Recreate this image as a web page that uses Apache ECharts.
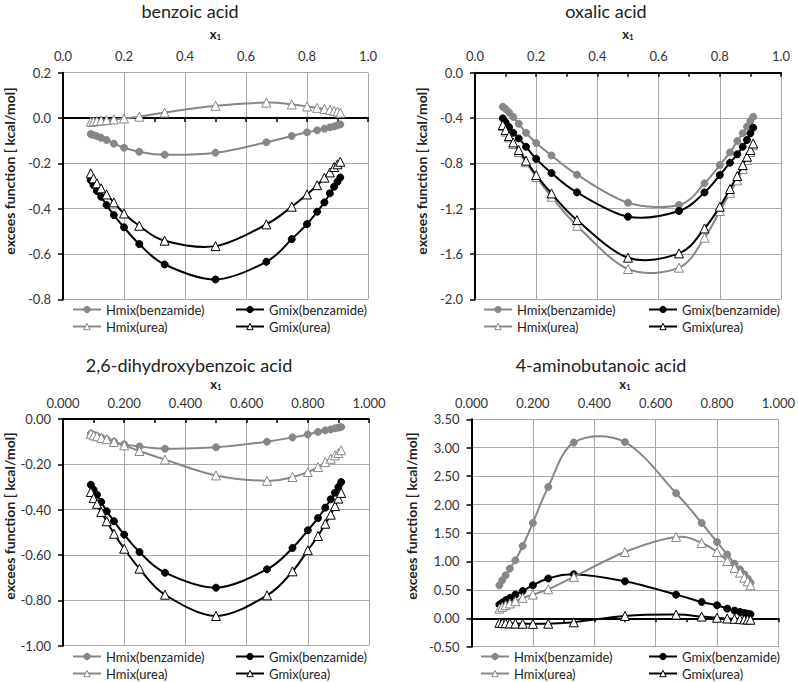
<!DOCTYPE html>
<html>
<head>
<meta charset="utf-8">
<script src="https://cdn.jsdelivr.net/npm/echarts@6/dist/echarts.min.js"></script>
<style>html,body{margin:0;padding:0;background:#fff}#c{width:798px;height:682px}</style>
</head>
<body>
<div id="c"></div>
<script>
// mole fraction x1 (same compositions in all four panels)
const X = [0.0909, 0.1, 0.1111, 0.125, 0.1429, 0.1667, 0.2, 0.25, 0.3333, 0.5, 0.6667, 0.75, 0.8, 0.8333, 0.8571, 0.875, 0.8889, 0.9, 0.9091];

const seriesNames = ['Hmix(benzamide)', 'Gmix(benzamide)', 'Hmix(urea)', 'Gmix(urea)'];
const panelTitles = ['benzoic acid', 'oxalic acid', '2,6-dihydroxybenzoic acid', '4-aminobutanoic acid'];
const yTitle = 'excees function [ kcal/mol]';

// benzoic acid
const bz_Hb = [-0.071,-0.075,-0.080,-0.087,-0.097,-0.113,-0.131,-0.149,-0.162,-0.153,-0.107,-0.079,-0.063,-0.054,-0.047,-0.041,-0.037,-0.032,-0.028];
const bz_Gb = [-0.274,-0.296,-0.322,-0.347,-0.384,-0.428,-0.482,-0.556,-0.646,-0.712,-0.634,-0.534,-0.468,-0.413,-0.372,-0.332,-0.303,-0.281,-0.262];
const bz_Hu = [-0.017,-0.015,-0.013,-0.011,-0.009,-0.006,-0.002,0.006,0.024,0.054,0.068,0.060,0.051,0.045,0.040,0.036,0.032,0.029,0.023];
const bz_Gu = [-0.244,-0.266,-0.288,-0.310,-0.337,-0.372,-0.421,-0.475,-0.541,-0.565,-0.469,-0.391,-0.337,-0.296,-0.263,-0.240,-0.216,-0.204,-0.193];

// oxalic acid
const ox_Hb = [-0.30,-0.32,-0.35,-0.39,-0.45,-0.53,-0.62,-0.73,-0.90,-1.147,-1.168,-0.976,-0.815,-0.703,-0.603,-0.535,-0.476,-0.426,-0.388];
const ox_Gb = [-0.403,-0.438,-0.48,-0.53,-0.58,-0.653,-0.76,-0.885,-1.056,-1.27,-1.22,-1.056,-0.903,-0.794,-0.72,-0.653,-0.594,-0.535,-0.485];
const ox_Hu = [-0.47,-0.52,-0.57,-0.63,-0.70,-0.79,-0.92,-1.094,-1.35,-1.732,-1.72,-1.456,-1.22,-1.06,-0.95,-0.85,-0.77,-0.70,-0.64];
const ox_Gu = [-0.462,-0.506,-0.559,-0.615,-0.682,-0.776,-0.903,-1.065,-1.30,-1.632,-1.594,-1.374,-1.182,-1.026,-0.912,-0.815,-0.741,-0.682,-0.624];

// 2,6-dihydroxybenzoic acid
const dh_Hb = [-0.065,-0.070,-0.075,-0.082,-0.090,-0.100,-0.112,-0.121,-0.131,-0.125,-0.100,-0.081,-0.068,-0.057,-0.050,-0.046,-0.041,-0.038,-0.035];
const dh_Gb = [-0.290,-0.312,-0.334,-0.366,-0.407,-0.451,-0.510,-0.587,-0.678,-0.744,-0.663,-0.569,-0.491,-0.437,-0.391,-0.354,-0.325,-0.300,-0.278];
const dh_Hu = [-0.065,-0.072,-0.076,-0.083,-0.089,-0.101,-0.116,-0.141,-0.179,-0.249,-0.273,-0.256,-0.234,-0.212,-0.190,-0.175,-0.160,-0.150,-0.138];
const dh_Gu = [-0.322,-0.349,-0.374,-0.410,-0.451,-0.506,-0.572,-0.660,-0.775,-0.869,-0.778,-0.672,-0.579,-0.516,-0.462,-0.422,-0.384,-0.351,-0.326];

// 4-aminobutanoic acid
const ab_Hb = [0.58,0.668,0.756,0.873,1.02,1.272,1.676,2.31,3.09,3.10,2.20,1.676,1.342,1.12,0.96,0.86,0.774,0.70,0.627];
const ab_Gb = [0.24,0.275,0.317,0.358,0.416,0.48,0.58,0.70,0.774,0.65,0.416,0.287,0.229,0.17,0.135,0.111,0.094,0.082,0.07];
const ab_Hu = [0.17,0.2,0.23,0.26,0.3,0.36,0.416,0.51,0.727,1.166,1.43,1.325,1.166,1.008,0.885,0.803,0.715,0.65,0.58];
const ab_Gu = [-0.08,-0.085,-0.088,-0.09,-0.093,-0.096,-0.098,-0.095,-0.07,0.04,0.065,0.03,0.01,-0.005,-0.01,-0.015,-0.02,-0.022,-0.025];

// axis ranges per panel
const yMin = [-0.8, -2.0, -1.0, -0.5];
const yMax = [0.2, 0.0, 0.0, 3.5];
const yStep = [0.2, 0.4, 0.2, 0.5];
const yDec = [1, 1, 2, 2];
const xDec = [1, 1, 3, 3];

const panelData = [
  [bz_Hb, bz_Gb, bz_Hu, bz_Gu],
  [ox_Hb, ox_Gb, ox_Hu, ox_Gu],
  [dh_Hb, dh_Gb, dh_Hu, dh_Gu],
  [ab_Hb, ab_Gb, ab_Hu, ab_Gu]
];

// layout (pixels)
const grids = [
  {left: 63, top: 72.7, width: 305, height: 226.7},
  {left: 475, top: 72.7, width: 306, height: 226.7},
  {left: 63, top: 419, width: 306, height: 226.7},
  {left: 471.5, top: 419.3, width: 309, height: 227.4}
];
const titlePos = [[190, 10.5], [606, 10.5], [189, 365], [601, 365]];
const yNamePos = [[9, 171], [421, 171], [9, 516], [411, 516]];
const xNameGap = [32, 32, 28, 28];
const legendTops = [298, 298, 645, 645];
const legendCols = [[67, 230], [478, 643], [67, 230], [475, 643]];

const FONT = 'Lato, "Open Sans", sans-serif';
const GREY = '#878787';
const GRIDC = '#a8a8a8';
const fmt = d => v => (Math.abs(v) < 1e-9 ? 0 : v).toFixed(d);

const xAxis = [], yAxis = [], series = [], legend = [], graphic = [];
const styles = [
  {color: GREY, sym: 'circle', fill: GREY, size: 7},
  {color: '#000', sym: 'circle', fill: '#000', size: 7},
  {color: GREY, sym: 'triangle', fill: '#fff', size: 9},
  {color: '#000', sym: 'triangle', fill: '#fff', size: 9}
];

// smoothed (Excel-like Catmull-Rom) segment renderer working in pixel space via api.coord
function makeRenderer(pts, color) {
  return function (params, api) {
    const i = params.dataIndex, n = pts.length;
    if (i >= n - 1) return null;
    const P = k => api.coord(pts[Math.max(0, Math.min(n - 1, k))]);
    const p0 = P(i - 1), p1 = P(i), p2 = P(i + 1), p3 = P(i + 2);
    const seg = Math.hypot(p2[0] - p1[0], p2[1] - p1[1]);
    const arm = (a, b) => {
      let vx = (b[0] - a[0]) / 6, vy = (b[1] - a[1]) / 6;
      const L = Math.hypot(vx, vy), lim = seg * 0.5;
      if (L > lim && L > 0) { vx *= lim / L; vy *= lim / L; }
      return [vx, vy];
    };
    const a1 = arm(p0, p2), a2 = arm(p1, p3);
    return {
      type: 'bezierCurve',
      shape: {x1: p1[0], y1: p1[1], x2: p2[0], y2: p2[1],
              cpx1: p1[0] + a1[0], cpy1: p1[1] + a1[1], cpx2: p2[0] - a2[0], cpy2: p2[1] - a2[1]},
      style: {stroke: color, lineWidth: 2, fill: null, lineCap: 'round'}
    };
  };
}

for (let p = 0; p < 4; p++) {
  xAxis.push({
    gridIndex: p, type: 'value', position: 'top', min: 0, max: 1, interval: 0.2,
    axisLine: {show: false, onZero: false}, axisTick: {show: false},
    axisLabel: {formatter: fmt(xDec[p]), fontSize: 13, color: '#333', margin: 10, fontFamily: FONT},
    splitLine: {show: true, lineStyle: {color: GRIDC, width: 1}},
    name: '{a|x}{b|1}', nameLocation: 'middle', nameGap: xNameGap[p],
    nameTextStyle: {rich: {
      a: {fontSize: 13, fontWeight: 'bold', fontFamily: FONT, color: '#222'},
      b: {fontSize: 8, fontWeight: 'bold', fontFamily: FONT, color: '#222', padding: [6, 0, 0, 0]}
    }}
  });
  xAxis.push({
    gridIndex: p, type: 'value', position: 'bottom', min: 0, max: 1, interval: 0.1,
    axisLine: {show: true, onZero: true, lineStyle: {color: '#000', width: 2}},
    axisTick: {show: true, length: 4, lineStyle: {color: '#000', width: 1.5}},
    axisLabel: {show: false}, splitLine: {show: false}
  });
  yAxis.push({
    gridIndex: p, type: 'value', min: yMin[p], max: yMax[p], interval: yStep[p],
    axisLine: {show: true, onZero: false, lineStyle: {color: '#000', width: 2}},
    axisTick: {show: true, length: 5, lineStyle: {color: '#000', width: 1.5}},
    axisLabel: {formatter: fmt(yDec[p]), fontSize: 13, color: '#333', margin: 12, fontFamily: FONT},
    splitLine: {show: true, lineStyle: {color: GRIDC, width: 1}}
  });
  for (let s = 0; s < 4; s++) {
    const st = styles[s];
    const d = panelData[p][s];
    const pts = X.map((x, i) => [x, d[i]]);
    // smoothed connecting curve
    series.push({
      type: 'custom', coordinateSystem: 'cartesian2d', xAxisIndex: p * 2, yAxisIndex: p,
      data: pts, renderItem: makeRenderer(pts, st.color), silent: true, z: 2 + s * 2,
      encode: {x: 0, y: 1}
    });
    // markers
    series.push({
      type: 'line', name: seriesNames[s], xAxisIndex: p * 2, yAxisIndex: p,
      data: pts, smooth: false, symbol: st.sym, symbolSize: st.size, showSymbol: true,
      lineStyle: {color: st.color, width: 0, opacity: 0},
      itemStyle: {color: st.fill, borderColor: st.color, borderWidth: 1},
      z: 3 + s * 2
    });
  }
  const legItem = s => ({
    name: seriesNames[s],
    lineStyle: {color: styles[s].color, width: 2, opacity: 1, type: 'solid'},
    itemStyle: {color: styles[s].fill, borderColor: styles[s].color, borderWidth: 1, opacity: 1}
  });
  [[0, 2], [1, 3]].forEach((pair, c) => {
    legend.push({
      orient: 'vertical', left: legendCols[p][c], top: legendTops[p], height: 40, itemGap: 4,
      itemWidth: 28, itemHeight: 8, data: pair.map(legItem),
      textStyle: {fontSize: 13, color: '#222', fontFamily: FONT}, selectedMode: false
    });
  });
  graphic.push({
    type: 'text', x: titlePos[p][0], y: titlePos[p][1],
    style: {text: panelTitles[p], fontSize: 18, fontWeight: 'normal', fontFamily: FONT, fill: '#222', textAlign: 'center', textVerticalAlign: 'middle'}
  });
  graphic.push({
    type: 'text', x: yNamePos[p][0], y: yNamePos[p][1], rotation: Math.PI / 2,
    style: {text: yTitle, fontSize: 14, fontWeight: 'bold', fontFamily: FONT, fill: '#222', textAlign: 'center', textVerticalAlign: 'middle'}
  });
}

const chart = echarts.init(document.getElementById('c'), null, {renderer: 'svg', width: 798, height: 682});
chart.setOption({
  animation: false,
  backgroundColor: '#fff',
  textStyle: {fontFamily: FONT},
  grid: grids,
  xAxis, yAxis, series, legend, graphic
});
</script>
</body>
</html>
